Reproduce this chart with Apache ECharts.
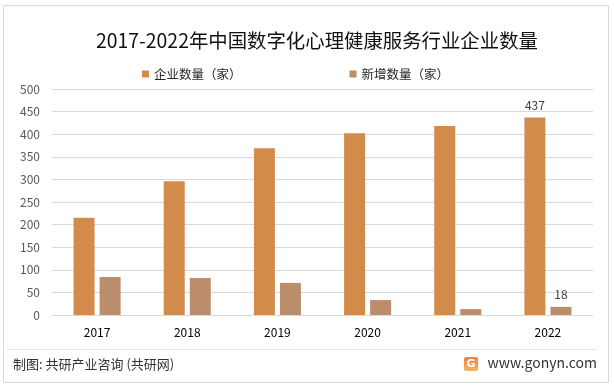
<!DOCTYPE html>
<html>
<head>
<meta charset="utf-8">
<script src="https://cdn.jsdelivr.net/npm/echarts@6/dist/echarts.min.js"></script>
<style>
html,body{margin:0;padding:0;background:#fff;}
#c{width:614px;height:387px;}
</style>
</head>
<body>
<div id="c"></div>
<script>
var categories = ['2017', '2018', '2019', '2020', '2021', '2022'];
var enterpriseCount = [215, 296, 369, 402, 418, 437];
var newCount = [84, 82, 71, 33, 13, 18];
var seriesNames = ['企业数量（家）', '新增数量（家）'];
var yTicks = { min: 0, max: 500, interval: 50 };

var FONT = '"Noto Sans CJK SC", "Noto Sans", sans-serif';
var chart = echarts.init(document.getElementById('c'));

var lastIdx = categories.length - 1;
function labelLast(arr) {
  return arr.map(function (v, i) {
    return i === lastIdx ? { value: v, label: { show: true } } : v;
  });
}

chart.setOption({
  animation: false,
  backgroundColor: '#ffffff',
  textStyle: { fontFamily: FONT },
  title: {
    text: '2017-2022年中国数字化心理健康服务行业企业数量',
    left: 312,
    textAlign: 'center',
    top: 26,
    textStyle: { fontFamily: FONT, fontSize: 19.4, fontWeight: 'normal', color: '#111111' }
  },
  legend: {
    data: seriesNames,
    left: 137,
    top: 62,
    icon: 'rect',
    itemWidth: 7,
    itemHeight: 7,
    itemGap: 108,
    textStyle: { fontFamily: FONT, fontSize: 12.5, color: '#262626', lineHeight: 14 }
  },
  grid: { left: 52, right: 21, top: 89, bottom: 72, containLabel: false },
  xAxis: {
    type: 'category',
    data: categories,
    axisLine: { show: true, lineStyle: { color: '#d9d9d9', width: 1 } },
    axisTick: { show: false },
    axisLabel: { fontFamily: FONT, fontSize: 12, color: '#000000', margin: 11 }
  },
  yAxis: {
    type: 'value',
    min: yTicks.min,
    max: yTicks.max,
    interval: yTicks.interval,
    axisLine: { show: false },
    axisTick: { show: false },
    splitLine: { lineStyle: { color: '#d9d9d9', width: 1 } },
    axisLabel: { fontFamily: FONT, fontSize: 12, color: '#595959', margin: 12 }
  },
  series: [
    {
      name: seriesNames[0],
      type: 'bar',
      data: labelLast(enterpriseCount),
      barWidth: 21,
      barGap: '24%',
      itemStyle: { color: '#d38b4c' },
      label: { show: false, position: 'top', distance: 6, fontFamily: FONT, fontSize: 12, color: '#404040' }
    },
    {
      name: seriesNames[1],
      type: 'bar',
      data: labelLast(newCount),
      barWidth: 21,
      barGap: '24%',
      itemStyle: { color: '#bc8d6b' },
      label: { show: false, position: 'top', distance: 6, fontFamily: FONT, fontSize: 12, color: '#404040' }
    }
  ],
  graphic: [
    {
      type: 'rect', silent: true, z: -1,
      shape: { x: 3.5, y: 5.5, width: 605, height: 377 },
      style: { fill: 'none', stroke: '#d9d9d9', lineWidth: 1 }
    },
    {
      type: 'line', silent: true,
      shape: { x1: 7, y1: 349.5, x2: 597, y2: 349.5 },
      style: { stroke: '#e6e6e6', lineWidth: 1 }
    },
    {
      type: 'text', silent: true,
      style: { x: 13, y: 364, text: '制图: 共研产业咨询 (共研网)', fontFamily: FONT, fontSize: 13, fill: '#333333', textVerticalAlign: 'middle' }
    },
    {
      type: 'rect', silent: true,
      shape: { x: 464, y: 357, width: 14, height: 14, r: 2 },
      style: {
        fill: new echarts.graphic.LinearGradient(0, 0, 0, 1, [
          { offset: 0, color: '#f0803a' }, { offset: 1, color: '#f6b26b' }
        ])
      }
    },
    {
      type: 'text', silent: true,
      style: { x: 471, y: 364.5, text: 'G', fontFamily: '"DejaVu Sans", sans-serif', fontSize: 11, fontWeight: 'bold', fill: '#ffffff', textAlign: 'center', textVerticalAlign: 'middle' }
    },
    {
      type: 'text', silent: true,
      style: { x: 597, y: 363, text: 'www.gonyn.com', fontFamily: FONT, fontSize: 14, fill: '#333333', textAlign: 'right', textVerticalAlign: 'middle' }
    }
  ]
});
</script>
</body>
</html>
